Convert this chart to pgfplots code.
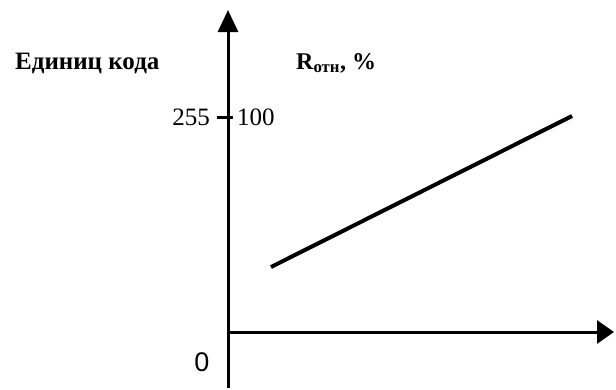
\documentclass[border=0pt]{standalone}
\usepackage{pgfplots}
\pgfplotsset{compat=1.18}
\usepackage{fontspec}
\setmainfont{Liberation Serif}
\newfontfamily\sansf{Liberation Sans}
\usetikzlibrary{arrows.meta}
\begin{document}
\begin{tikzpicture}
\begin{axis}[
  scale only axis, width=616bp, height=388bp,
  xmin=-228, xmax=388, ymin=-66.4, ymax=393.8,
  axis lines=none, clip=false,
]
\path (rel axis cs:0,0) (rel axis cs:1,1);
\draw[line width=3bp, -{Triangle[length=22bp,width=20bp]}] (axis cs:0,-66.4) -- (axis cs:0,381.9);
\draw[line width=3bp, -{Triangle[length=17bp,width=23bp]}] (axis cs:0,0) -- (axis cs:386,0);
\draw[line width=3bp] (axis cs:-11,255) -- (axis cs:5,255);
\addplot[black, line width=4bp, no marks] coordinates {(43,77.1) (344,256.2)};
\node[anchor=west, inner sep=0pt, font=\fontsize{25bp}{30bp}\selectfont\bfseries] at (axis cs:-213,319) {Единиц кода};
\node[anchor=west, inner sep=0pt, font=\fontsize{24bp}{29bp}\selectfont\bfseries] at (axis cs:68,319) {R\textsubscript{отн}, \%};
\node[anchor=east, inner sep=0pt, font=\fontsize{25bp}{30bp}\selectfont] at (axis cs:-18,255) {255};
\node[anchor=west, inner sep=0pt, font=\fontsize{25bp}{30bp}\selectfont] at (axis cs:9,255) {100};
\node[inner sep=0pt, font=\fontsize{27bp}{31bp}\selectfont\sansf] at (axis cs:-26,-35.6) {0};
\end{axis}
\end{tikzpicture}
\end{document}
